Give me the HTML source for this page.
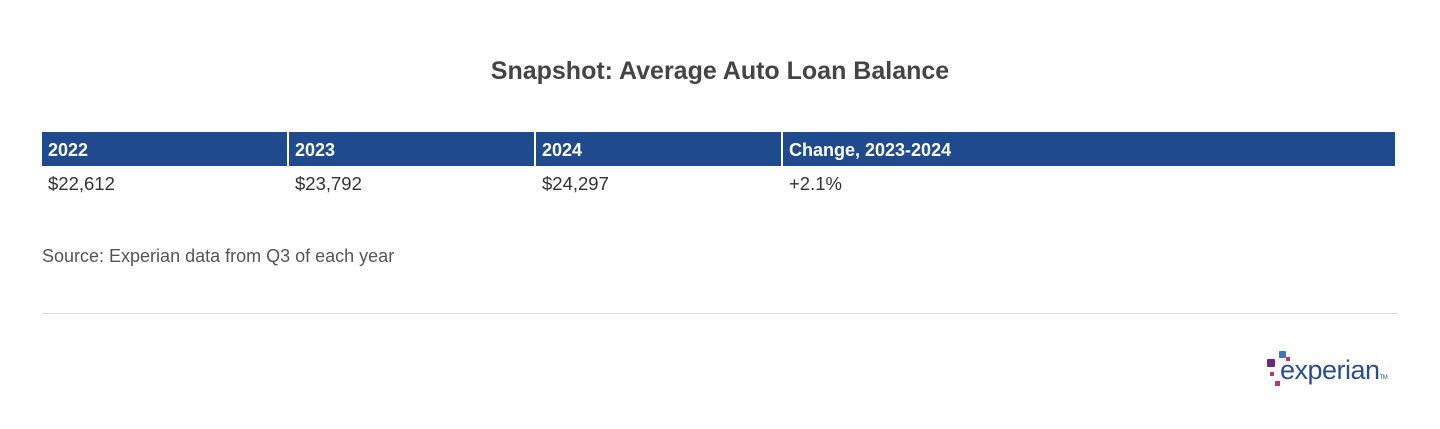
<!DOCTYPE html>
<html><head><style>
body{margin:0;width:1440px;height:429px;background:#fff;font-family:"Liberation Sans",sans-serif;position:relative;overflow:hidden}
.t{position:absolute;left:0;width:1440px;top:57px;text-align:center;font-size:25px;font-weight:bold;color:#444}
.hdr{position:absolute;top:132px;height:34px;background:#1f4a8e;color:#fff;font-weight:bold;font-size:18px;line-height:36px;padding-left:6px;box-sizing:border-box}
.cell{position:absolute;top:173px;font-size:18.5px;color:#333;line-height:22px}
.src{position:absolute;left:42px;top:246px;font-size:18px;color:#555}
.hr{position:absolute;left:42px;width:1356px;top:313px;height:1px;background:#ddd}
.d{position:absolute}
</style></head><body>
<div class="t">Snapshot: Average Auto Loan Balance</div>
<div class="hdr" style="left:42px;width:245px">2022</div>
<div class="hdr" style="left:289px;width:245px">2023</div>
<div class="hdr" style="left:536px;width:245px">2024</div>
<div class="hdr" style="left:783px;width:612px">Change, 2023-2024</div>
<div class="cell" style="left:48px">$22,612</div>
<div class="cell" style="left:295px">$23,792</div>
<div class="cell" style="left:542px">$24,297</div>
<div class="cell" style="left:789px">+2.1%</div>
<div class="src">Source: Experian data from Q3 of each year</div>
<div class="hr"></div>
<div class="d" style="left:1279px;top:351px;width:7px;height:7px;background:#3b78c3;border-radius:1px"></div>
<div class="d" style="left:1267px;top:359px;width:8px;height:8px;background:#6b2a7e;border-radius:1px"></div>
<div class="d" style="left:1286px;top:357px;width:4px;height:4px;background:#c2307a"></div>
<div class="d" style="left:1270px;top:372px;width:4px;height:4px;background:#c2307a"></div>
<div class="d" style="left:1275px;top:381px;width:5px;height:5px;background:#c2307a"></div>
<div class="d" style="left:1280px;top:355px;font-size:27px;color:#2b4f8e;letter-spacing:-0.5px">experian<span style="font-size:6px">TM</span></div>
</body></html>
